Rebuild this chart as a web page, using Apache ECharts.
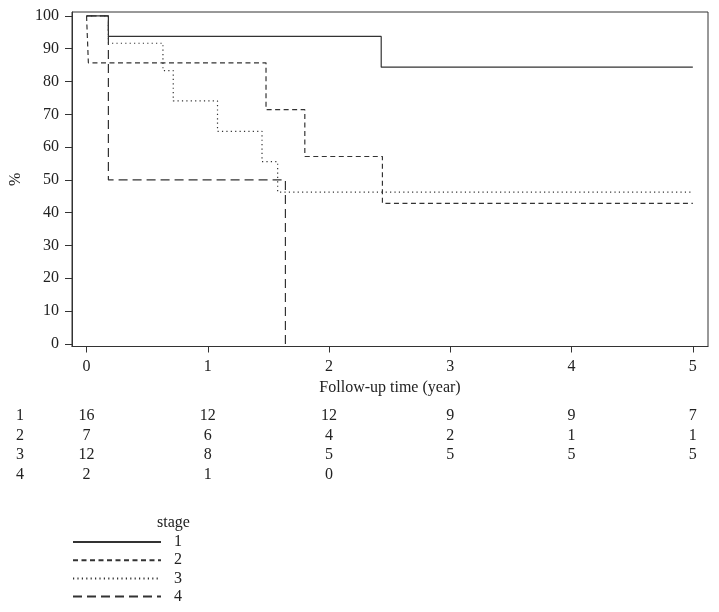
<!DOCTYPE html>
<html>
<head>
<meta charset="utf-8">
<script src="https://cdn.jsdelivr.net/npm/echarts@6/dist/echarts.min.js"></script>
<style>html,body{margin:0;padding:0;background:#fff}#c{width:719px;height:612px}</style>
</head>
<body>
<div id="c"></div>
<script>
// Kaplan–Meier step data: [time (years), survival %]
var stage1 = [[0,100],[0.18,93.75],[2.43,84.38],[5,84.38]];
var stage2 = [[0,100],[0.015,85.71],[1.48,71.43],[1.80,57.14],[2.44,42.86],[5,42.86]];
var stage3 = [[0,100],[0.18,91.67],[0.63,83.33],[0.715,74.07],[1.08,64.81],[1.447,55.56],[1.576,46.30],[5,46.30]];
var stage4 = [[0,100],[0.18,50],[1.64,0]];

var stageNames = ['1','2','3','4'];
var xTicks = [0,1,2,3,4,5];
var yTicks = [0,10,20,30,40,50,60,70,80,90,100];

// Numbers at risk
var riskTimes = [0,1,2,3,4,5];
var risk1 = [16,12,12,9,9,7];
var risk2 = [7,6,4,2,1,1];
var risk3 = [12,8,5,5,5,5];
var risk4 = [2,1,0];

var FONT = '"Liberation Serif", "DejaVu Serif", serif';
var FS = 16;
var INK = '#333';
var TXT = '#222';

function riskData(name, arr){
  return arr.map(function(v,i){ return [riskTimes[i], name, v]; });
}
var riskRows = [risk1, risk2, risk3, risk4];
var riskSeries = riskRows.map(function(arr, k){
  return {
    type: 'scatter', xAxisIndex: 1, yAxisIndex: 1,
    symbolSize: 0, silent: true,
    itemStyle: {color: TXT, opacity: 1},
    data: riskData(stageNames[k], arr),
    label: {show: true, position: 'inside', formatter: function(p){ return String(p.value[2]); },
            fontFamily: FONT, fontSize: FS, color: TXT, textBorderWidth: 0, opacity: 1}
  };
});

var dashes = [null, [5,3.5], [1.2,3.2], [9,5]];
var curves = [stage1, stage2, stage3, stage4].map(function(d, k){
  return {
    name: stageNames[k], type: 'line', step: 'end', data: d,
    symbol: 'none', showSymbol: false, silent: true, animation: false,
    lineStyle: {color: INK, width: 1.2, type: dashes[k] || 'solid'},
    itemStyle: {color: INK}
  };
});

var chart = echarts.init(document.getElementById('c'));
chart.setOption({
  animation: false,
  backgroundColor: '#fff',
  title: {text: 'stage', left: 157, top: 515, padding: 0,
          textStyle: {fontFamily: FONT, fontSize: FS, fontWeight: 'normal', color: TXT}},
  legend: {
    data: stageNames, orient: 'vertical', left: 72, top: 534, padding: 0,
    itemWidth: 88, itemHeight: 18, itemGap: 2.2,
    itemStyle: {opacity: 0},
    textStyle: {fontFamily: FONT, fontSize: FS, color: TXT, padding: [0,0,0,8]},
    selectedMode: false
  },
  grid: [
    {left: 72, top: 12, width: 636, height: 334.5, show: true, borderColor: INK, borderWidth: 1, backgroundColor: 'transparent'},
    {left: 72, top: 406.3, width: 636, height: 78, show: false}
  ],
  xAxis: [
    {type: 'value', gridIndex: 0, min: -0.12, max: 5.125,
     name: 'Follow-up time (year)', nameLocation: 'middle', nameGap: 32,
     nameTextStyle: {fontFamily: FONT, fontSize: FS, color: TXT},
     axisLine: {show: true, onZero: false, lineStyle: {color: INK, width: 1}},
     axisTick: {show: true, length: 6, lineStyle: {color: INK}, customValues: xTicks},
     axisLabel: {fontFamily: FONT, fontSize: FS, color: TXT, margin: 12, customValues: xTicks},
     splitLine: {show: false}},
    {type: 'value', gridIndex: 1, min: -0.12, max: 5.125, show: false}
  ],
  yAxis: [
    {type: 'value', gridIndex: 0, min: -0.8, max: 101.2,
     name: '%', nameLocation: 'middle', nameGap: 41, nameRotate: 90,
     nameTextStyle: {fontFamily: FONT, fontSize: FS, color: TXT},
     axisLine: {show: true, onZero: false, lineStyle: {color: INK, width: 1}},
     axisTick: {show: true, length: 7, lineStyle: {color: INK}, customValues: yTicks},
     axisLabel: {fontFamily: FONT, fontSize: FS, color: TXT, margin: 13, customValues: yTicks},
     splitLine: {show: false}},
    {type: 'category', gridIndex: 1, data: stageNames, inverse: true,
     axisLine: {show: false}, axisTick: {show: false}, splitLine: {show: false},
     axisLabel: {interval: 0, fontFamily: FONT, fontSize: FS, color: TXT, align: 'left', margin: 56}}
  ],
  series: curves.concat(riskSeries)
});
</script>
</body>
</html>
